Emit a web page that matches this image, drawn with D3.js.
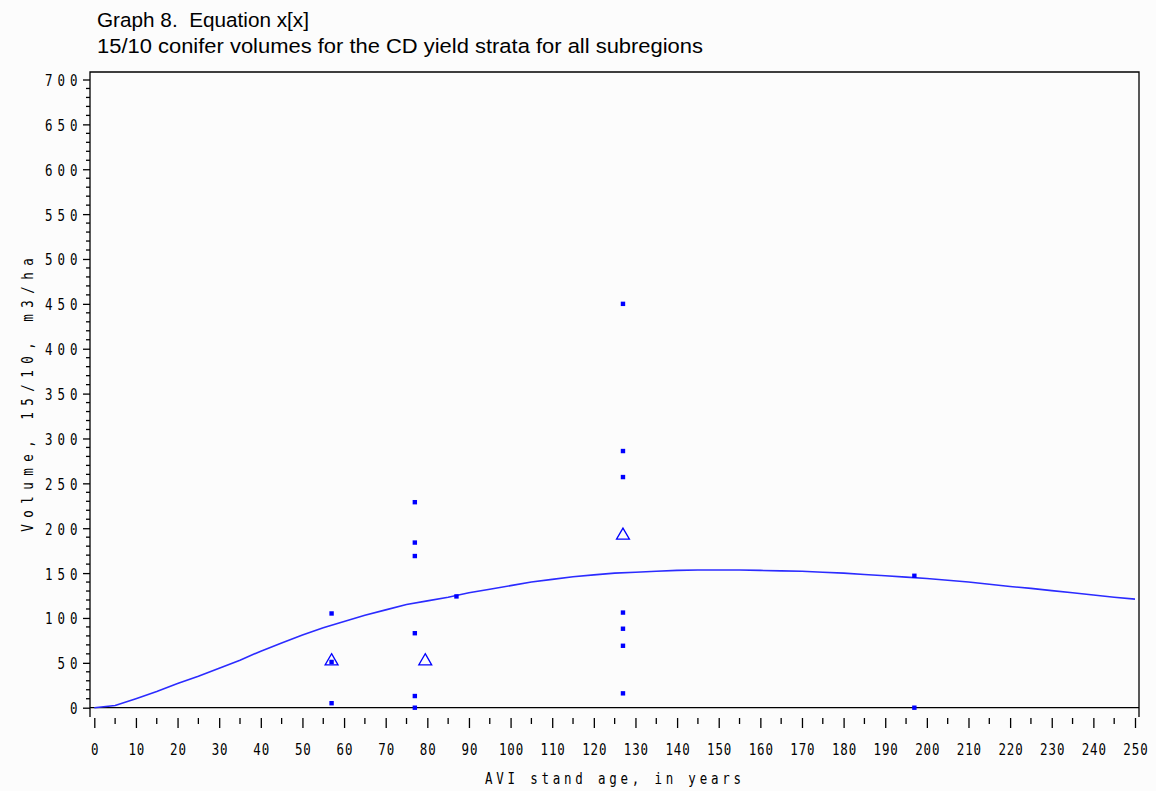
<!DOCTYPE html>
<html>
<head>
<meta charset="utf-8">
<script src="https://cdn.jsdelivr.net/npm/d3@7/dist/d3.min.js"></script>
<style>
  html, body { margin: 0; padding: 0; background: #fcfcfc; }
  svg { display: block; }
  .mono { font-family: "DejaVu Sans Mono", "Liberation Mono", monospace; font-size: 16px; fill: #000; }
</style>
</head>
<body>
<svg id="chart" width="1156" height="791"></svg>
<script>
// Plot titles
const titleLines = [
  "Graph 8.  Equation x[x]",
  "15/10 conifer volumes for the CD yield strata for all subregions"
];
const xAxisTitle = "AVI stand age, in years";
const yAxisTitle = "Volume, 15/10, m3/ha";

// Observed plot volumes (age in years, volume in m3/ha)
const obsAge    = [57, 57, 57, 77, 77, 77, 77, 77, 77, 87, 127, 127, 127, 127, 127, 127, 127, 197, 197];
const obsVolume = [105, 51, 5, 229, 184, 169, 83, 13, 0, 124, 450, 286, 257, 106, 88, 69, 16, 147, 0];

// Class means (open triangles)
const meanAge    = [57, 79.5, 127];
const meanVolume = [53, 53, 193];

// Fitted yield curve
const curveAge = [0, 5, 10, 15, 20, 25, 30, 35, 40, 45, 50, 55, 60, 65, 70, 75, 80, 85, 90, 95, 100,
  105, 110, 115, 120, 125, 130, 135, 140, 145, 150, 155, 160, 165, 170, 175, 180, 185, 190, 195, 200,
  205, 210, 215, 220, 225, 230, 235, 240, 245, 250];
const curveVolume = [0, 2.5, 10, 18, 27, 35, 44, 53, 63, 72, 81, 89, 96, 103, 109, 115, 119, 123, 128, 132, 136,
  140, 143, 146, 148, 150, 151, 152, 153, 153.5, 153.5, 153.5, 153, 152.5, 152, 151, 150, 148.5, 147, 145.5, 144,
  142, 140, 137.5, 135, 133, 130.5, 128, 125.5, 123, 121];

// Axis ticks
const xMajorTicks = d3.range(0, 251, 10);
const xMinorTicks = d3.range(5, 250, 10);
const yMajorTicks = d3.range(0, 701, 50);
const yMinorTicks = d3.range(10, 700, 10).filter(v => v % 50 !== 0);

const svg = d3.select("#chart");
const blue = "#0000ff";

// Frame geometry
const frame = { left: 90, right: 1139, top: 72, bottom: 717 };

const x = d3.scaleLinear().domain([0, 250]).range([94.3, 1135]);
const y = d3.scaleLinear().domain([0, 700]).range([707.7, 79.5]);

// Plotter-style lettering: narrow glyphs placed one by one at a fixed pitch.
const SQUEEZE = 0.78;
const ADV = 16 * 0.602 * SQUEEZE;   // advance of one squeezed glyph
function plotterText(sel, { px, py, anchor, pitch, rotate = 0 }) {
  sel.each(function () {
    const t = d3.select(this);
    const n = t.text().length;
    const width = (n - 1) * pitch + ADV;
    const start = anchor === "end" ? -width : anchor === "middle" ? -width / 2 : 0;
    const xs = d3.range(n).map(i => ((start + i * pitch) / SQUEEZE).toFixed(2)).join(" ");
    t.attr("class", "mono")
      .attr("font-family", null).attr("font-size", null)
      .attr("text-anchor", "start")
      .attr("x", xs).attr("y", 0).attr("dy", null)
      .attr("transform", `translate(${px},${py}) rotate(${rotate}) scale(${SQUEEZE},1)`);
  });
}

// Titles
svg.append("g").selectAll("text").data(titleLines).join("text")
  .attr("x", 97)
  .attr("y", (d, i) => 27 + i * 26)
  .attr("font-family", "Liberation Sans, Arial, sans-serif")
  .attr("font-size", 20.5)
  .attr("fill", "#000")
  .attr("style", "white-space: pre")
  .attr("textLength", (d, i) => i === 0 ? 212 : 606)
  .attr("lengthAdjust", "spacingAndGlyphs")
  .text(d => d);

// Frame: top, left, right
svg.append("path")
  .attr("d", `M${frame.left},${frame.bottom}V${frame.top}H${frame.right}V${frame.bottom}`)
  .attr("fill", "none").attr("stroke", "#000").attr("stroke-width", 1.3);

// Zero reference line
svg.append("line")
  .attr("x1", frame.left).attr("x2", frame.right)
  .attr("y1", y(0)).attr("y2", y(0))
  .attr("stroke", "#000").attr("stroke-width", 1.3);

// Y axis
const yAxis = svg.append("g").attr("transform", `translate(${frame.left},0)`);
yAxis.call(d3.axisLeft(y).tickValues(yMajorTicks).tickSize(7).tickFormat(d3.format("d")));
yAxis.select(".domain").remove();
yAxis.selectAll(".tick line").attr("stroke", "#000").attr("stroke-width", 1.3);
yAxis.selectAll(".tick text")
  .call(plotterText, { px: -12.5, py: 6, anchor: "end", pitch: 12.5 });
yAxis.append("g").selectAll("line").data(yMinorTicks).join("line")
  .attr("x1", -4).attr("x2", 0)
  .attr("y1", d => y(d)).attr("y2", d => y(d))
  .attr("stroke", "#000").attr("stroke-width", 1.3);

// X axis (ticks hang below the frame)
const xAxis = svg.append("g").attr("transform", `translate(0,${frame.bottom + 1})`);
xAxis.call(d3.axisBottom(x).tickValues(xMajorTicks).tickSize(10).tickFormat(d3.format("d")));
xAxis.select(".domain").remove();
xAxis.selectAll(".tick line").attr("stroke", "#000").attr("stroke-width", 1.3);
xAxis.selectAll(".tick text")
  .call(plotterText, { px: 0, py: 36.5, anchor: "middle", pitch: 8.4 });
xAxis.append("g").selectAll("line").data(xMinorTicks).join("line")
  .attr("x1", d => x(d)).attr("x2", d => x(d))
  .attr("y1", 0).attr("y2", 6)
  .attr("stroke", "#000").attr("stroke-width", 1.3);

// Axis titles
svg.append("text").text(xAxisTitle)
  .call(plotterText, { px: 613, py: 784, anchor: "middle", pitch: 11.3 });

svg.append("text").text(yAxisTitle)
  .call(plotterText, { px: 33, py: 395, anchor: "middle", pitch: 14, rotate: -90 });

// Fitted curve
const curveData = curveAge.map((a, i) => [a, curveVolume[i]]);
svg.append("path")
  .datum(curveData)
  .attr("d", d3.line().x(d => x(d[0])).y(d => y(d[1])))
  .attr("fill", "none")
  .attr("stroke", "#2b2bff")
  .attr("stroke-width", 1.6);

// Observations
const obsData = obsAge.map((a, i) => [a, obsVolume[i]]);
svg.append("g").selectAll("rect").data(obsData).join("rect")
  .attr("x", d => x(d[0]) - 2.2)
  .attr("y", d => y(d[1]) - 2.2)
  .attr("width", 4.4).attr("height", 4.4)
  .attr("fill", blue);

// Means
const meanData = meanAge.map((a, i) => [a, meanVolume[i]]);
const tri = d3.symbol().type(d3.symbolTriangle).size(72);
svg.append("g").selectAll("path").data(meanData).join("path")
  .attr("transform", d => `translate(${x(d[0])},${y(d[1]) + 1})`)
  .attr("d", tri)
  .attr("fill", "none")
  .attr("stroke", blue)
  .attr("stroke-width", 1.3);
</script>
</body>
</html>
